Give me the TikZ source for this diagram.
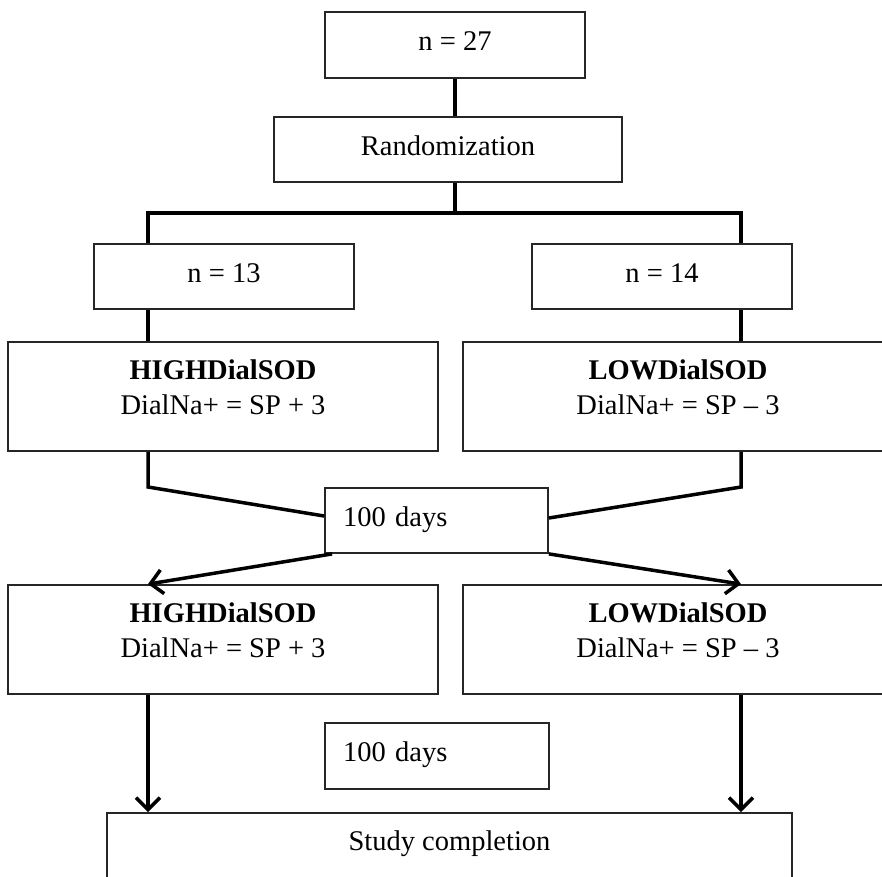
\documentclass[tikz,border=0pt]{standalone}
\usepackage{fontspec}
\setmainfont{Liberation Serif}
\usetikzlibrary{arrows.meta,calc}
\begin{document}
\begin{tikzpicture}[x=1pt,y=-1pt,
  box/.style={draw=black!85, line width=1.8pt, inner sep=0pt, minimum height=65pt,
    text height=20pt, text depth=9pt, font=\fontsize{28.5}{35}\selectfont},
  lbl/.style={inner sep=0pt, anchor=base, font=\fontsize{28.5}{35}\selectfont},
  conn/.style={line width=3.5pt, line join=miter},
  arr/.style={conn, -{Straight Barb[length=12pt,width=24pt]}}
]
\useasboundingbox (0,0) rectangle (882,876);

% boxes
\node[box, minimum width=260pt, minimum height=66pt] (n27) at (455,45) {n = 27};
\node[box, minimum width=348pt] (rand) at (448,149.5) {Randomization};
\node[box, minimum width=260pt] (n13) at (224,276.5) {n = 13};
\node[box, minimum width=260pt] (n14) at (662,276.5) {n = 14};

\node[box, minimum width=430pt, minimum height=109pt] (high1) at (223,396.5) {};
\node[box, minimum width=430pt, minimum height=109pt] (low1) at (678,396.5) {};
\node[lbl] (high1a) at (223,379) {\textbf{HIGHDialSOD}};
\node[lbl] (high1b) at (223,414) {DialNa+ = SP + 3};
\node[lbl] (low1a) at (678,379) {\textbf{LOWDialSOD}};
\node[lbl] (low1b) at (678,414) {DialNa+ = SP – 3};

\node[box, minimum width=223pt, text width=187pt, align=left, inner xsep=18pt] (d1) at (436.5,520.5) {100 days};

\node[box, minimum width=430pt, minimum height=109pt] (high2) at (223,639.5) {};
\node[box, minimum width=430pt, minimum height=109pt] (low2) at (678,639.5) {};
\node[lbl] (high2a) at (223,622) {\textbf{HIGHDialSOD}};
\node[lbl] (high2b) at (223,657) {DialNa+ = SP + 3};
\node[lbl] (low2a) at (678,622) {\textbf{LOWDialSOD}};
\node[lbl] (low2b) at (678,657) {DialNa+ = SP – 3};

\node[box, minimum width=224pt, minimum height=66pt, text width=188pt, align=left, inner xsep=18pt] (d2) at (437,756) {100 days};

\node[box, minimum width=685pt, minimum height=80pt, text depth=26pt] (study) at (449.5,853) {Study completion};

% connectors
\coordinate (split) at (455,213);
\coordinate (bl) at (148,213);
\coordinate (br) at (741,213);
\coordinate (jl) at (148,487);
\coordinate (jr) at (741,487);

\draw[conn] (n27.south) -- (n27.south |- rand.north);
\draw[conn] (split |- rand.south) -- (split);
\draw[conn] (bl |- n13.north) -- (bl) -- (br) -- (br |- n14.north);
\draw[conn] (bl |- n13.south) -- (bl |- high1.north);
\draw[conn] (br |- n14.south) -- (br |- low1.north);
\draw[conn] (bl |- high1.south) -- (jl) -- ($(d1.west)+(0,-4.5)$);
\draw[conn] (br |- low1.south) -- (jr) -- ($(d1.east)+(0,-2.5)$);
\draw[arr] ($(d1.south west)+(8,0)$) -- (bl |- high2.north);
\draw[arr] (d1.south east) -- (br |- low2.north);
\draw[arr] (bl |- high2.south) -- (bl |- study.north);
\draw[arr] (br |- low2.south) -- (br |- study.north);
\end{tikzpicture}
\end{document}
